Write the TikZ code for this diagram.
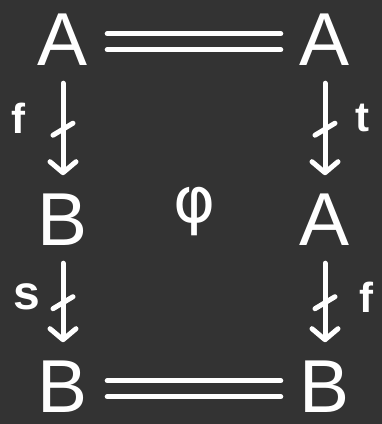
\documentclass[tikz,border=0pt]{standalone}
\usepackage{fontspec}
\setmainfont{Liberation Sans}
\newfontfamily\greekfont{DejaVu Sans}
\usetikzlibrary{arrows.meta}
\definecolor{bg}{HTML}{333333}
\begin{document}
\begin{tikzpicture}[x=1pt,y=-1pt,
  every node/.style={inner sep=0pt, text=white},
  obj/.style={font=\fontsize{75}{75}\selectfont, anchor=base},
  lab/.style={font=\bfseries\fontsize{42}{42}\selectfont},
  stroke/.style={draw=white, line width=5pt, line cap=round, line join=round},
  arr/.style={stroke, -{Straight Barb[length=11pt,width=26pt,line cap=round,line join=round]}, shorten <=18pt, shorten >=18pt}]
\fill[bg] (0,0) rectangle (382,424);
\useasboundingbox (0,0) rectangle (382,424);
\node[obj] (A1) at (63,65) {A};
\node[obj] (A2) at (325,65) {A};
\node[obj] (B1) at (63,245) {B};
\node[obj] (A3) at (325,245) {A};
\node[obj] (B2) at (63,412) {B};
\node[obj] (B3) at (325,412) {B};
\node[font=\greekfont\fontsize{64}{64}\selectfont, text=white] (phi) at (195,212) {φ};
\node[lab] (lf1) at (18,118) {f};
\node[lab] (lt) at (362,118) {t};
\node[lab, font=\bfseries\fontsize{48}{48}\selectfont] (ls) at (27,297) {s};
\node[lab] (lf2) at (366,297) {f};
% double lines
\draw[stroke] ([xshift=19pt,yshift=5.5pt]A1.east) -- ([xshift=-19pt,yshift=5.5pt]A2.west);
\draw[stroke] ([xshift=19pt,yshift=-10.5pt]A1.east) -- ([xshift=-19pt,yshift=-10.5pt]A2.west);
\draw[stroke] ([xshift=19pt,yshift=5.5pt]B2.east) -- ([xshift=-19pt,yshift=5.5pt]B3.west);
\draw[stroke] ([xshift=19pt,yshift=-10.5pt]B2.east) -- ([xshift=-19pt,yshift=-10.5pt]B3.west);
% arrows
\draw[arr] (A1.south) -- coordinate[pos=0.5] (m1) (B1.north);
\draw[arr] (B1.south) -- coordinate[pos=0.5] (m2) (B2.north);
\draw[arr] (A2.south) -- coordinate[pos=0.5] (m3) (A3.north);
\draw[arr] (A3.south) -- coordinate[pos=0.5] (m4) (B3.north);
\foreach \m in {m1,m2,m3,m4}
  \draw[stroke] ([xshift=-10pt,yshift=-6pt]\m) -- ([xshift=10pt,yshift=6pt]\m);
\end{tikzpicture}
\end{document}
